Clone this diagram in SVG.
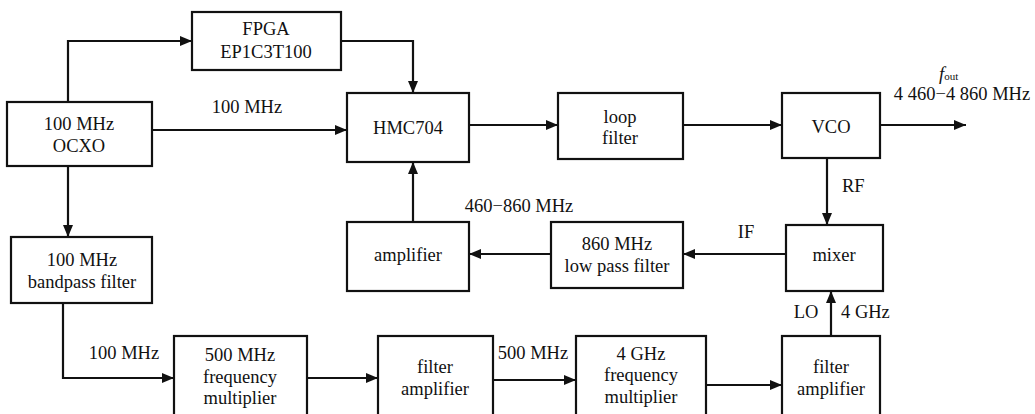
<svg xmlns="http://www.w3.org/2000/svg" width="1035" height="414" viewBox="0 0 1035 414">
<style>
text{font-family:"Liberation Serif","DejaVu Serif","Times New Roman",serif;font-size:18.5px;fill:#111;}
.c{text-anchor:middle;}
rect{fill:#fff;stroke:#111;stroke-width:2.2;}
.cn path{fill:none;stroke:#111;stroke-width:2.2;marker-end:url(#ah);}
</style>
<defs>
<marker id="ah" markerUnits="userSpaceOnUse" viewBox="0 0 12 10" refX="12" refY="5" markerWidth="12" markerHeight="10" orient="auto">
<path d="M0,0 L12,5 L0,10 z" fill="#111"/>
</marker>
</defs>
<rect x="0" y="0" width="1035" height="414" style="fill:#fff;stroke:none"/>
<g class="cn" id="connectors">
<path d="M68,102 V41 H192"/>
<path d="M152,130 H347"/>
<path d="M341,41 H413 V93"/>
<path d="M469,125 H558"/>
<path d="M683,125 H782"/>
<path d="M880,125 H966"/>
<path d="M827,158 V225"/>
<path d="M786,254 H683"/>
<path d="M551,254 H469"/>
<path d="M413,222 V162"/>
<path d="M68,166 V237"/>
<path d="M63,303 V378 H174"/>
<path d="M307,378 H378"/>
<path d="M493,380 H576"/>
<path d="M706,385 H782"/>
<path d="M831,336 V291"/>
</g>
<g id="labels">
<text class="c" x="247" y="113">100 MHz</text>
<text class="c" x="519" y="212">460−860 MHz</text>
<text x="842" y="192">RF</text>
<text class="c" x="746" y="238">IF</text>
<text class="c" x="806" y="318">LO</text>
<text x="841" y="318">4 GHz</text>
<text class="c" x="124" y="359">100 MHz</text>
<text class="c" x="533" y="359">500 MHz</text>
<text x="939" y="80" font-size="16px"><tspan font-style="italic">f</tspan><tspan font-size="11px">out</tspan></text>
<text class="c" x="962" y="100">4 460−4 860 MHz</text>
</g>
<g id="fpga"><rect x="192" y="12" width="149" height="58"/><text class="c" x="266" y="35">FPGA</text><text class="c" x="266" y="58">EP1C3T100</text></g>
<g id="ocxo"><rect x="7" y="102" width="145" height="64"/><text class="c" x="79" y="130">100 MHz</text><text class="c" x="79" y="152">OCXO</text></g>
<g id="hmc704"><rect x="347" y="93" width="122" height="69"/><text class="c" x="408" y="134">HMC704</text></g>
<g id="loopfilter"><rect x="558" y="93" width="125" height="66"/><text class="c" x="620" y="123">loop</text><text class="c" x="620" y="144">filter</text></g>
<g id="vco"><rect x="782" y="93" width="98" height="65"/><text class="c" x="831" y="133">VCO</text></g>
<g id="mixer"><rect x="786" y="225" width="97" height="66"/><text class="c" x="834" y="261">mixer</text></g>
<g id="lpf"><rect x="551" y="222" width="132" height="66"/><text class="c" x="617" y="250">860 MHz</text><text class="c" x="617" y="272">low pass filter</text></g>
<g id="amplifier"><rect x="347" y="222" width="122" height="69"/><text class="c" x="408" y="261">amplifier</text></g>
<g id="bandpass"><rect x="11" y="237" width="141" height="66"/><text class="c" x="82" y="266">100 MHz</text><text class="c" x="82" y="288">bandpass filter</text></g>
<g id="mult500"><rect x="174" y="336" width="133" height="90"/><text class="c" x="240" y="361">500 MHz</text><text class="c" x="240" y="383">frequency</text><text class="c" x="240" y="404">multiplier</text></g>
<g id="filteramp1"><rect x="378" y="336" width="115" height="90"/><text class="c" x="435" y="373">filter</text><text class="c" x="435" y="395">amplifier</text></g>
<g id="mult4g"><rect x="576" y="336" width="130" height="90"/><text class="c" x="641" y="360">4 GHz</text><text class="c" x="641" y="381">frequency</text><text class="c" x="641" y="403">multiplier</text></g>
<g id="filteramp2"><rect x="782" y="336" width="98" height="90"/><text class="c" x="831" y="373">filter</text><text class="c" x="831" y="395">amplifier</text></g>
</svg>
